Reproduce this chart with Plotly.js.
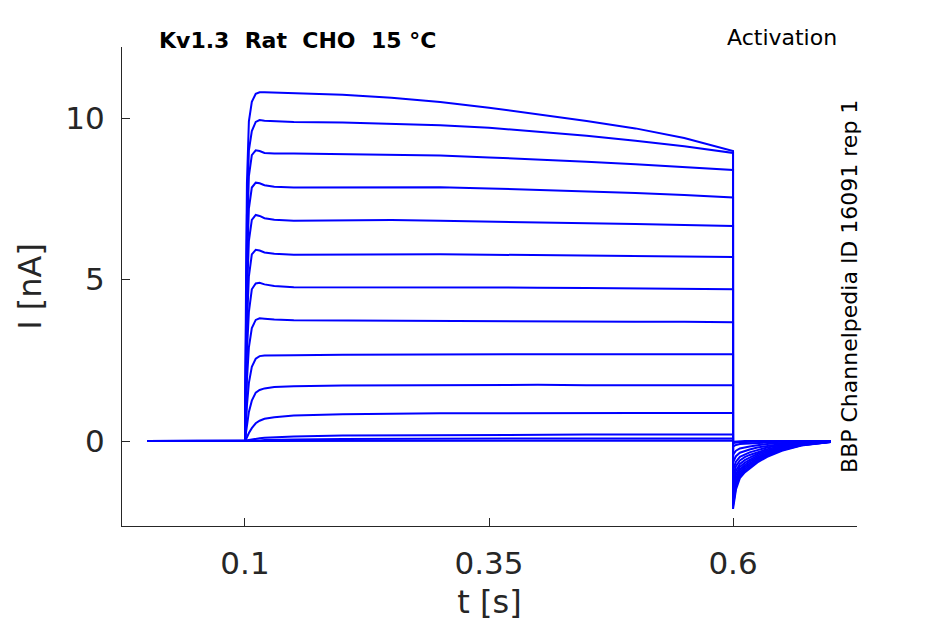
<!DOCTYPE html>
<html>
<head>
<meta charset="utf-8">
<script src="https://cdn.plot.ly/plotly-3.0.1.min.js"></script>
<style>html,body{margin:0;padding:0;background:#fff;}#chart{width:945px;height:624px;}</style>
</head>
<body>
<div id="chart"></div>
<script>
// time grid (s)
var t = [0, 0.05, 0.1, 0.101, 0.102, 0.104, 0.107, 0.111, 0.115, 0.12, 0.13, 0.15, 0.2,
         0.25, 0.3, 0.35, 0.4, 0.45, 0.5, 0.55, 0.6,
         0.6, 0.603, 0.607, 0.612, 0.617, 0.625, 0.635, 0.65, 0.67, 0.7];

// current traces (nA), one per voltage step
var trace1  = [0, 0, 0, 4.5, 8.0, 9.9, 10.5, 10.75, 10.8, 10.8, 10.79, 10.77, 10.72,
               10.63, 10.5, 10.32, 10.12, 9.91, 9.68, 9.38, 8.98,
               -2.1, -1.5, -1.15, -0.97, -0.85, -0.66, -0.49, -0.3, -0.14, -0.03];
var trace2  = [0, 0, 0, 3.5, 7.0, 9.0, 9.6, 9.88, 9.94, 9.92, 9.9, 9.88, 9.86,
               9.83, 9.78, 9.7, 9.58, 9.45, 9.3, 9.13, 8.92,
               -2.0, -1.42, -1.09, -0.92, -0.8, -0.62, -0.46, -0.28, -0.13, -0.03];
var trace3  = [0, 0, 0, 3.0, 6.2, 8.2, 8.85, 9.0, 8.98, 8.92, 8.9, 8.9, 8.88,
               8.86, 8.84, 8.78, 8.72, 8.65, 8.57, 8.48, 8.39,
               -1.88, -1.34, -1.03, -0.86, -0.75, -0.58, -0.43, -0.26, -0.12, -0.03];
var trace4  = [0, 0, 0, 2.5, 5.4, 7.2, 7.85, 8.0, 7.98, 7.92, 7.87, 7.85, 7.86,
               7.87, 7.86, 7.82, 7.78, 7.74, 7.68, 7.62, 7.54,
               -1.76, -1.25, -0.96, -0.8, -0.7, -0.54, -0.4, -0.24, -0.11, -0.02];
var trace5  = [0, 0, 0, 2.0, 4.5, 6.2, 6.85, 7.0, 6.97, 6.9, 6.85, 6.82, 6.84,
               6.84, 6.82, 6.8, 6.78, 6.75, 6.72, 6.69, 6.66,
               -1.62, -1.15, -0.88, -0.74, -0.64, -0.5, -0.37, -0.22, -0.1, -0.02];
var trace6  = [0, 0, 0, 1.6, 3.6, 5.1, 5.78, 5.92, 5.9, 5.84, 5.8, 5.77, 5.78,
               5.79, 5.78, 5.77, 5.76, 5.75, 5.74, 5.72, 5.7,
               -1.47, -1.04, -0.8, -0.67, -0.58, -0.45, -0.33, -0.2, -0.09, -0.02];
var trace7  = [0, 0, 0, 1.2, 2.8, 4.0, 4.7, 4.88, 4.9, 4.85, 4.8, 4.76, 4.76,
               4.77, 4.76, 4.76, 4.75, 4.74, 4.73, 4.72, 4.7,
               -1.3, -0.92, -0.71, -0.59, -0.51, -0.4, -0.29, -0.18, -0.08, -0.02];
var trace8  = [0, 0, 0, 0.8, 1.9, 2.9, 3.5, 3.75, 3.8, 3.79, 3.76, 3.74, 3.73,
               3.72, 3.72, 3.71, 3.7, 3.7, 3.69, 3.69, 3.68,
               -1.1, -0.78, -0.6, -0.5, -0.43, -0.34, -0.25, -0.15, -0.07, -0.01];
var trace9  = [0, 0, 0, 0.5, 1.1, 1.8, 2.3, 2.55, 2.63, 2.65, 2.66, 2.66, 2.67,
               2.68, 2.69, 2.69, 2.69, 2.69, 2.69, 2.69, 2.69,
               -0.9, -0.64, -0.49, -0.41, -0.35, -0.28, -0.2, -0.12, -0.06, -0.01];
var trace10 = [0, 0, 0, 0.25, 0.5, 0.9, 1.25, 1.5, 1.58, 1.63, 1.67, 1.7, 1.72,
               1.73, 1.73, 1.74, 1.74, 1.73, 1.73, 1.73, 1.73,
               -0.66, -0.47, -0.36, -0.3, -0.26, -0.2, -0.15, -0.09, -0.04, -0.01];
var trace11 = [0, 0, 0, 0.05, 0.12, 0.25, 0.4, 0.55, 0.63, 0.69, 0.74, 0.79, 0.83,
               0.85, 0.86, 0.86, 0.87, 0.87, 0.87, 0.87, 0.87,
               -0.42, -0.3, -0.23, -0.19, -0.17, -0.13, -0.09, -0.06, -0.03, 0];
var trace12 = [0, 0, 0, 0.01, 0.02, 0.03, 0.05, 0.07, 0.09, 0.1, 0.12, 0.14, 0.17,
               0.18, 0.19, 0.19, 0.2, 0.2, 0.2, 0.2, 0.2,
               -0.17, -0.12, -0.09, -0.08, -0.07, -0.05, -0.04, -0.02, -0.01, 0];
var trace13 = [0, 0, 0, 0, 0, 0.01, 0.01, 0.02, 0.02, 0.03, 0.04, 0.05, 0.06,
               0.07, 0.07, 0.08, 0.08, 0.08, 0.08, 0.08, 0.08,
               -0.06, -0.04, -0.03, -0.03, -0.02, -0.02, -0.01, -0.01, 0, 0];
var trace14 = [0, 0, 0, 0, 0, 0, 0, 0, 0.01, 0.01, 0.01, 0.01, 0.02,
               0.02, 0.02, 0.02, 0.02, 0.02, 0.02, 0.02, 0.02,
               -0.02, -0.01, -0.01, 0, 0, 0, 0, 0, 0, 0];

var xTicks = [0.1, 0.35, 0.6];
var xTickLabels = ['0.1', '0.35', '0.6'];
var yTicks = [0, 5, 10];
var yTickLabels = ['0', '5', '10'];

var titleText = 'Kv1.3  Rat  CHO  15 °C';
var protocolText = 'Activation';
var sourceText = 'BBP Channelpedia ID 16091 rep 1';
var xLabel = 't [s]';
var yLabel = 'I [nA]';

var allTraces = [trace1, trace2, trace3, trace4, trace5, trace6, trace7,
                 trace8, trace9, trace10, trace11, trace12, trace13, trace14];

var data = allTraces.map(function (ys) {
  return {
    x: t, y: ys, type: 'scatter', mode: 'lines',
    line: {color: '#0000ff', width: 2},
    hoverinfo: 'skip', showlegend: false
  };
});

var axisColor = '#262626';
var font = 'DejaVu Sans, sans-serif';

var layout = {
  width: 945, height: 624,
  margin: {l: 122, r: 88, t: 47, b: 98},
  paper_bgcolor: '#ffffff', plot_bgcolor: '#ffffff',
  font: {family: font, color: axisColor},
  showlegend: false,
  xaxis: {
    range: [-0.026, 0.727],
    tickvals: xTicks, ticktext: xTickLabels,
    ticks: 'inside', ticklen: 8, tickwidth: 1, tickcolor: axisColor,
    showline: true, linecolor: axisColor, linewidth: 1,
    showgrid: false, zeroline: false,
    tickfont: {size: 31, color: axisColor, family: font},
    ticklabelstandoff: 10,
    title: {text: xLabel, font: {size: 32, color: axisColor, family: font}, standoff: 10}
  },
  yaxis: {
    range: [-2.63, 12.2],
    tickvals: yTicks, ticktext: yTickLabels,
    ticks: 'inside', ticklen: 8, tickwidth: 1, tickcolor: axisColor,
    showline: true, linecolor: axisColor, linewidth: 1,
    showgrid: false, zeroline: false,
    tickfont: {size: 31, color: axisColor, family: font},
    ticklabelstandoff: 10,
    title: {text: yLabel, font: {size: 32, color: axisColor, family: font}, standoff: 14}
  },
  annotations: [
    {text: '<b>' + titleText + '</b>', xref: 'paper', yref: 'paper',
     x: 0.239, y: 1.0146, xanchor: 'center', yanchor: 'middle', showarrow: false,
     font: {size: 22, color: '#000000', family: font}},
    {text: protocolText, xref: 'paper', yref: 'paper',
     x: 0.898, y: 1.019, xanchor: 'center', yanchor: 'middle', showarrow: false,
     font: {size: 22, color: '#000000', family: font}},
    {text: sourceText, xref: 'paper', yref: 'paper',
     x: 0.989, y: 0.501, xanchor: 'center', yanchor: 'middle', showarrow: false,
     textangle: -90,
     font: {size: 22, color: '#000000', family: font}}
  ]
};

Plotly.newPlot('chart', data, layout, {displayModeBar: false, staticPlot: true});
</script>
</body>
</html>
